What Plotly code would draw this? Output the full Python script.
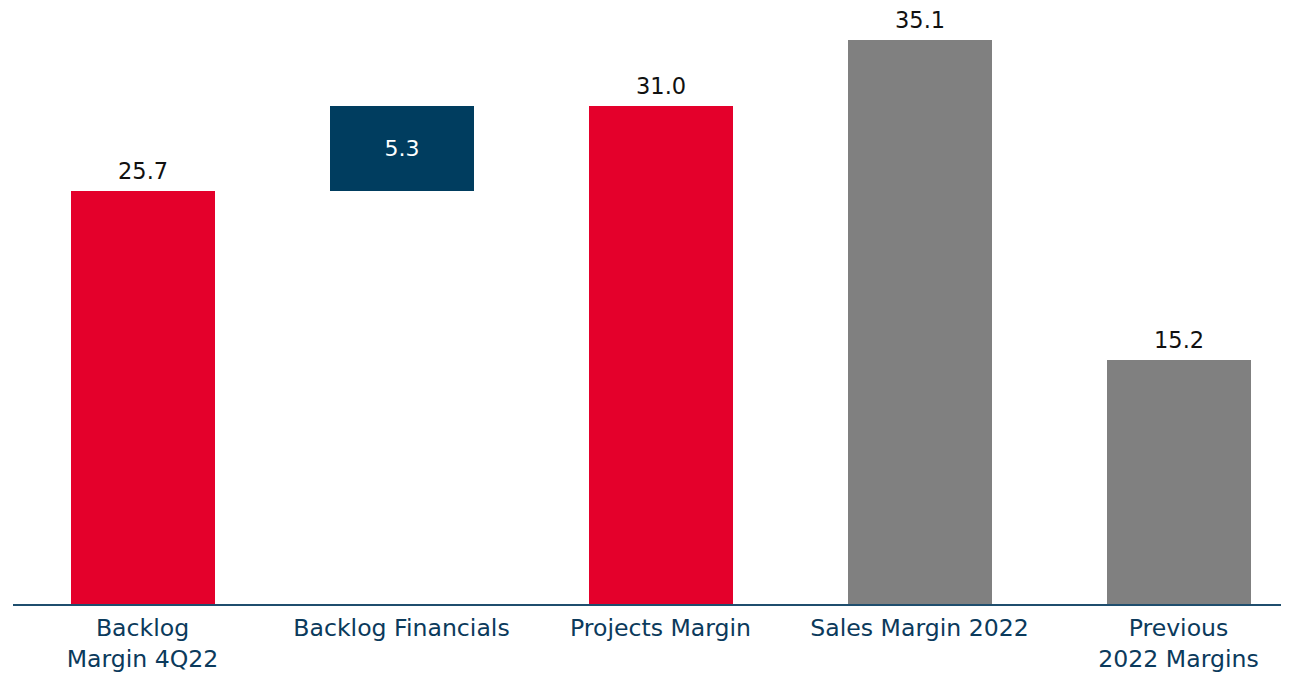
import plotly.graph_objects as go

categories = ["Backlog<br>Margin 4Q22", "Backlog Financials", "Projects Margin",
              "Sales Margin 2022", "Previous<br>2022 Margins"]
values = [25.7, 5.3, 31.0, 35.1, 15.2]
bases = [0, 25.7, 0, 0, 0]
colors = ["#E4002B", "#003D5F", "#E4002B", "#808080", "#808080"]
inside_label = [False, True, False, False, False]
labels = [f"{v:.1f}" for v in values]

x = list(range(len(categories)))
FONT = "DejaVu Sans"

fig = go.Figure(go.Bar(
    x=x, y=values, base=bases,
    marker=dict(color=colors, line=dict(width=0)),
    width=0.556,
    text=[l if ins else "" for l, ins in zip(labels, inside_label)],
    textposition="inside", textangle=0,
    insidetextanchor="middle",
    insidetextfont=dict(color="#FFFFFF", size=22, family=FONT),
    constraintext="none",
    cliponaxis=False,
    hoverinfo="skip",
))

for xi, v, b, l, ins in zip(x, values, bases, labels, inside_label):
    if not ins:
        fig.add_annotation(
            x=xi, y=b + v, text=l, showarrow=False,
            xanchor="center", yanchor="bottom", yshift=5,
            font=dict(color="#111111", size=22.5, family=FONT),
        )

fig.update_layout(
    width=1281, height=665,
    margin=dict(l=5, r=0, t=0, b=69, autoexpand=False),
    plot_bgcolor="white", paper_bgcolor="white",
    showlegend=False,
    font=dict(family=FONT, size=22),
    bargap=0,
)
fig.update_xaxes(
    range=[-0.5, -0.5 + 1276 / 259],
    tickmode="array", tickvals=x, ticktext=categories,
    showline=True, linecolor="#1F4E6E", linewidth=2,
    showgrid=False, zeroline=False, ticks="",
    automargin=False,
    ticklabelstandoff=2,
    tickfont=dict(color="#0B3A5C", size=23.6, family=FONT),
)
fig.update_yaxes(
    range=[0, 596 / 16.07],
    visible=False, showgrid=False, zeroline=False, automargin=False,
)

fig.write_html("out.html")
